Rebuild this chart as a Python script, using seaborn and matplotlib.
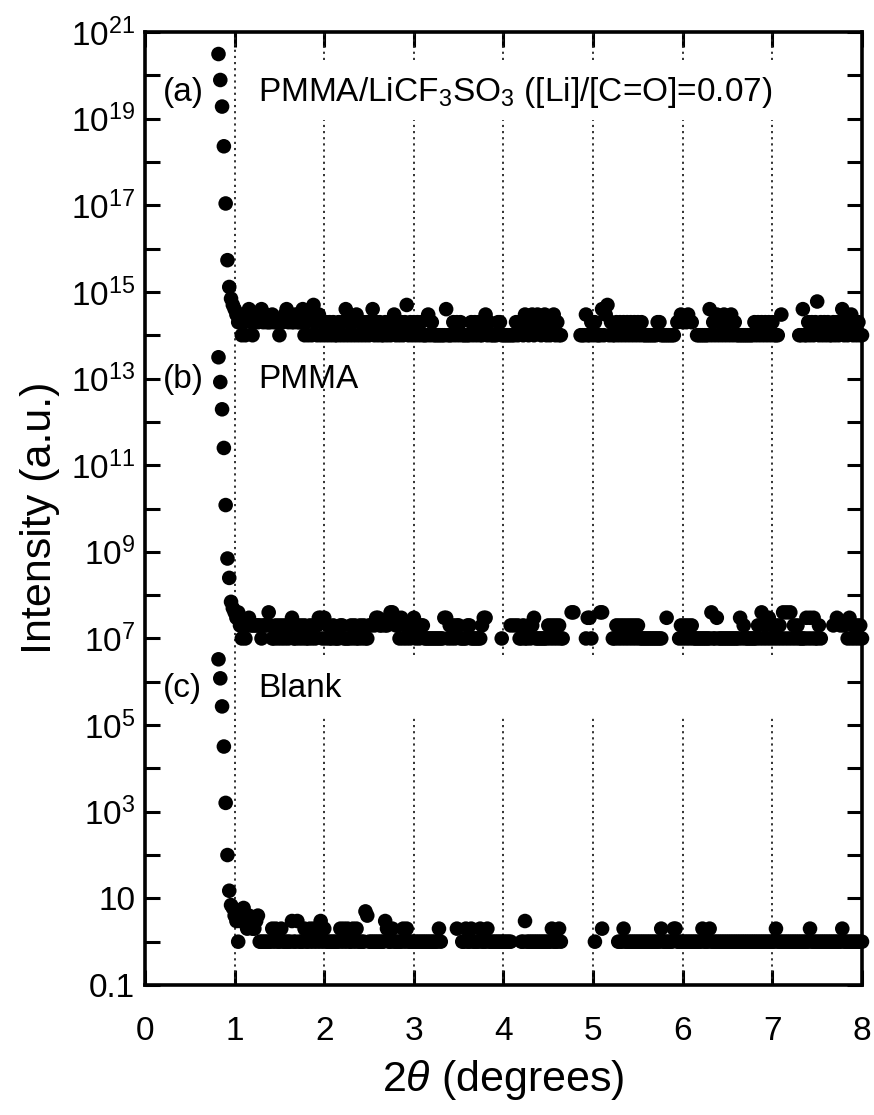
import numpy as np
import pandas as pd
import matplotlib
matplotlib.use("Agg")
import matplotlib.pyplot as plt
import seaborn as sns

# ---------------- data ----------------
X_START = 0.82          # first 2theta of the scan (deg)
STEP = 0.02             # scan step (deg)

OFFSET_A = 1e14
OFFSET_B = 1e7
OFFSET_C = 1.0

PEAK_A = [3.1e6, 7.8e5, 1.9e5, 2.3e4, 1.1e3, 54, 13, 7, 5]
PEAK_B = [3.1e6, 8.3e5, 1.95e5, 2.5e4, 1.2e3, 70, 25, 7, 5]
PEAK_C = [3.3e6, 1.2e6, 2.7e5, 3.2e4, 1.6e3, 100, 15, 7, 6]

# counts from 1.00 to 8.00 deg (one line = 0.5 deg); 0 = no count (not shown on log axis)
FLAT_A = [
    4, 3, 2, 3, 1, 2, 1, 3, 4, 2, 1, 2, 3, 2, 3, 4, 2, 3, 2, 2, 2, 3, 2, 2, 2,
    1, 2, 2, 3, 4, 2, 3, 2, 2, 3, 2, 2, 2, 4, 1, 2, 1, 3, 1, 5, 2, 1, 3, 1, 2,
    1, 2, 1, 2, 1, 2, 1, 1, 2, 1, 2, 1, 4, 1, 2, 1, 2, 1, 3, 1, 2, 1, 2, 1, 2,
    1, 2, 4, 1, 2, 1, 2, 1, 1, 2, 1, 2, 1, 2, 3, 1, 2, 1, 2, 1, 2, 5, 1, 2, 1,
    2, 1, 2, 1, 2, 1, 1, 1, 3, 1, 2, 1, 1, 1, 1, 1, 1, 1, 4, 1, 1, 1, 2, 1, 2,
    1, 2, 1, 1, 1, 1, 1, 2, 1, 2, 1, 2, 1, 1, 2, 3, 1, 2, 1, 1, 1, 1, 2, 2, 1,
    1, 1, 1, 1, 1, 1, 1, 2, 1, 2, 2, 1, 3, 2, 1, 2, 3, 1, 2, 3, 2, 1, 2, 3, 1,
    2, 1, 2, 3, 1, 2, 1, 1, 0, 0, 0, 0, 0, 0, 0, 0, 0, 0, 1, 1, 1, 3, 1, 1, 2,
    1, 2, 1, 1, 1, 4, 1, 3, 5, 1, 2, 1, 1, 2, 1, 2, 1, 2, 1, 2, 1, 2, 1, 2, 1,
    2, 1, 2, 1, 1, 1, 1, 1, 1, 1, 1, 2, 2, 1, 1, 1, 1, 1, 1, 1, 1, 0, 2, 0, 3,
    2, 0, 2, 3, 0, 2, 0, 0, 1, 1, 1, 1, 1, 1, 1, 4, 1, 2, 1, 3, 1, 2, 1, 3, 1,
    2, 1, 3, 1, 2, 1, 1, 1, 1, 1, 1, 1, 1, 1, 1, 2, 1, 2, 1, 2, 1, 2, 1, 2, 1,
    2, 1, 1, 1, 0, 3, 0, 0, 0, 0, 0, 0, 0, 0, 0, 1, 1, 4, 1, 1, 2, 1, 2, 1, 2,
    6, 1, 2, 1, 2, 1, 2, 1, 1, 2, 1, 2, 1, 2, 4, 1, 2, 1, 2, 3, 1, 2, 1, 2, 1,
    1,
]
FLAT_B = [
    4, 3, 4, 2, 1, 2, 1, 2, 3, 2, 2, 2, 2, 2, 2, 1, 2, 2, 2, 4, 2, 1, 1, 2, 1,
    2, 1, 2, 1, 2, 1, 2, 3, 1, 1, 2, 1, 2, 1, 2, 1, 1, 2, 1, 2, 1, 2, 3, 3, 1,
    3, 1, 2, 1, 1, 2, 1, 1, 1, 2, 2, 1, 1, 1, 1, 2, 1, 2, 1, 1, 2, 1, 2, 1, 1,
    2, 2, 0, 2, 3, 3, 2, 2, 0, 2, 2, 3, 4, 4, 3, 2, 2, 1, 3, 1, 2, 1, 2, 1, 2,
    3, 1, 2, 1, 2, 2, 1, 1, 1, 1, 1, 1, 1, 1, 1, 1, 1, 3, 3, 1, 2, 1, 2, 1, 2,
    2, 1, 1, 1, 1, 2, 2, 1, 1, 1, 1, 1, 1, 2, 3, 3, 0, 0, 0, 0, 0, 0, 0, 0, 1,
    0, 0, 0, 0, 2, 0, 2, 0, 2, 1, 1, 2, 1, 1, 2, 1, 2, 3, 1, 1, 1, 1, 1, 1, 1,
    2, 1, 2, 1, 2, 1, 2, 1, 1, 0, 0, 0, 0, 4, 4, 0, 0, 0, 0, 0, 0, 1, 3, 3, 1,
    0, 0, 0, 0, 4, 4, 0, 0, 0, 0, 0, 1, 1, 2, 1, 2, 1, 2, 1, 2, 1, 2, 1, 2, 1,
    2, 1, 1, 1, 1, 1, 1, 1, 1, 1, 1, 1, 1, 1, 0, 0, 3, 0, 0, 0, 0, 0, 0, 1, 2,
    1, 2, 1, 2, 1, 2, 1, 1, 1, 1, 1, 1, 1, 1, 1, 1, 4, 1, 1, 3, 1, 1, 1, 1, 1,
    1, 1, 1, 1, 1, 1, 1, 3, 1, 2, 1, 1, 1, 1, 1, 1, 1, 2, 1, 4, 1, 2, 1, 3, 1,
    2, 1, 2, 1, 2, 1, 4, 1, 4, 1, 4, 1, 2, 1, 2, 1, 1, 1, 1, 3, 1, 3, 1, 3, 1,
    1, 2, 1, 0, 0, 0, 0, 0, 0, 2, 0, 3, 0, 2, 0, 2, 0, 1, 3, 1, 2, 1, 2, 1, 2,
    1,
]
FLAT_C = [
    4, 3, 1, 3, 5, 6, 3, 2, 4, 3, 2, 2, 3, 4, 1, 1, 1, 1, 1, 1, 1, 2, 1, 2, 1,
    1, 2, 1, 1, 1, 1, 1, 3, 1, 1, 3, 1, 1, 1, 2, 1, 1, 2, 1, 2, 1, 2, 1, 3, 1,
    2, 1, 1, 1, 1, 1, 1, 1, 1, 2, 1, 2, 1, 2, 1, 1, 2, 1, 2, 1, 1, 1, 1, 5, 4,
    1, 1, 1, 1, 1, 1, 1, 1, 1, 3, 2, 1, 1, 2, 1, 1, 1, 1, 1, 2, 1, 2, 1, 1, 1,
    1, 1, 1, 1, 1, 1, 1, 1, 1, 1, 1, 1, 1, 1, 2, 1, 0, 0, 0, 0, 0, 0, 0, 0, 2,
    0, 0, 1, 1, 2, 1, 1, 2, 1, 1, 1, 1, 2, 1, 1, 1, 2, 1, 1, 1, 1, 1, 1, 1, 1,
    1, 1, 1, 1, 1, 0, 0, 0, 0, 0, 1, 1, 3, 1, 1, 1, 1, 1, 1, 1, 1, 1, 1, 1, 1,
    1, 1, 2, 1, 1, 1, 2, 1, 0, 0, 0, 0, 0, 0, 0, 0, 0, 0, 0, 0, 0, 0, 0, 0, 0,
    0, 1, 0, 0, 0, 2, 0, 0, 0, 0, 0, 0, 0, 0, 1, 1, 1, 2, 1, 1, 1, 1, 1, 1, 1,
    1, 1, 1, 1, 1, 1, 1, 1, 1, 1, 1, 1, 1, 2, 1, 1, 1, 1, 1, 1, 2, 2, 1, 1, 1,
    1, 1, 1, 1, 1, 1, 1, 1, 1, 1, 1, 2, 1, 1, 1, 2, 1, 1, 1, 1, 1, 1, 1, 1, 1,
    1, 1, 1, 1, 1, 1, 1, 1, 1, 1, 1, 1, 1, 1, 1, 1, 1, 1, 1, 1, 1, 1, 1, 1, 1,
    1, 1, 2, 1, 1, 1, 1, 1, 1, 1, 1, 1, 1, 1, 1, 1, 1, 1, 1, 1, 1, 2, 1, 1, 1,
    1, 1, 1, 1, 1, 1, 1, 1, 1, 1, 1, 1, 1, 1, 2, 1, 1, 1, 1, 1, 1, 1, 1, 1, 1,
    1,
]

SAMPLES = ["a", "b", "c"]
PANEL_TAGS = ["(a)", "(b)", "(c)"]
PANEL_NAMES = ["PMMA/LiCF$_3$SO$_3$ ([Li]/[C=O]=0.07)", "PMMA", "Blank"]

X_TICKS = [0, 1, 2, 3, 4, 5, 6, 7, 8]
Y_TICK_EXPONENTS = list(range(-1, 22))
Y_LABELS = {-1: "0.1", 1: "10", 3: "10$^{3}$", 5: "10$^{5}$", 7: "10$^{7}$",
            9: "10$^{9}$", 11: "10$^{11}$", 13: "10$^{13}$", 15: "10$^{15}$",
            17: "10$^{17}$", 19: "10$^{19}$", 21: "10$^{21}$"}
GRID_X = [1, 2, 3, 4, 5, 6, 7]
GRID_GAPS_LOG = [(18.97, 20.35), (5.19, 6.62)]   # blank bands behind the (a) and (c) captions

# ---------------- build table ----------------
frames = []
for name, peak, flat, off in [("a", PEAK_A, FLAT_A, OFFSET_A),
                              ("b", PEAK_B, FLAT_B, OFFSET_B),
                              ("c", PEAK_C, FLAT_C, OFFSET_C)]:
    counts = np.array(peak + flat, dtype=float)
    tt = np.round(X_START + STEP * np.arange(len(counts)), 2)
    keep = counts > 0
    frames.append(pd.DataFrame({"two_theta": tt[keep],
                                "intensity": counts[keep] * off,
                                "sample": name}))
df = pd.concat(frames, ignore_index=True)

# ---------------- style ----------------
sns.set_theme(style="ticks")
plt.rcParams["font.family"] = ["Liberation Sans", "DejaVu Sans"]
plt.rcParams["mathtext.fontset"] = "custom"
plt.rcParams["mathtext.rm"] = "Liberation Sans"
plt.rcParams["mathtext.it"] = "Liberation Sans:italic"
plt.rcParams["mathtext.bf"] = "Liberation Sans:bold"

fig = plt.figure(figsize=(8.74, 11.15), dpi=100)
ax = fig.add_axes([145 / 874, 1 - 985 / 1115, (862 - 145) / 874, (985 - 32) / 1115])

ax.set_yscale("log")
ax.set_xlim(0, 8)
ax.set_ylim(1e-1, 1e21)

# dotted vertical grid
grid_kw = dict(colors="#222222", linewidth=1.3, linestyles=(0, (1.2, 2.2)), zorder=1)
ymin, ymax = ax.get_ylim()
for gx in GRID_X:
    if gx == 1:
        ax.vlines(gx, ymin, ymax, **grid_kw)
    else:
        edges = [np.log10(ymin)]
        for lo, hi in sorted(GRID_GAPS_LOG):
            edges += [lo, hi]
        edges.append(np.log10(ymax))
        for k in range(0, len(edges), 2):
            ax.vlines(gx, 10 ** edges[k], 10 ** edges[k + 1], **grid_kw)

sns.scatterplot(data=df, x="two_theta", y="intensity", hue="sample",
                palette={"a": "black", "b": "black", "c": "black"},
                s=110, edgecolor="none", linewidth=0, legend=False,
                ax=ax, zorder=3, clip_on=False)

ax.set_yscale("log")
ax.set_xlim(0, 8)
ax.set_ylim(1e-1, 1e21)

ax.set_xticks(X_TICKS)
ax.set_xticklabels([str(t) for t in X_TICKS])
ax.set_yticks([10.0 ** e for e in Y_TICK_EXPONENTS])
ax.set_yticklabels([Y_LABELS.get(e, "") for e in Y_TICK_EXPONENTS])
ax.yaxis.set_minor_locator(matplotlib.ticker.NullLocator())
ax.xaxis.set_minor_locator(matplotlib.ticker.NullLocator())

ax.tick_params(axis="both", which="major", direction="in", length=11, width=2.2,
               top=True, right=True, labelsize=24, colors="black")
ax.tick_params(axis="x", pad=22)
ax.tick_params(axis="y", pad=7)
for sp in ax.spines.values():
    sp.set_linewidth(2.6)
    sp.set_color("black")
    sp.set_visible(True)

ax.set_xlabel(r"2$\mathit{\theta}$ (degrees)", fontsize=31, labelpad=8, color="black")
ax.set_ylabel("Intensity (a.u.)", fontsize=31, color="black")
ax.yaxis.set_label_coords(-0.118, 0.49)

# panel captions
cap_y = [0.937, 0.635, 0.3116]
for tag, name, yy in zip(PANEL_TAGS, PANEL_NAMES, cap_y):
    ax.text(0.025, yy, tag, transform=ax.transAxes, fontsize=24, va="center", ha="left", color="black")
    ax.text(0.1576, yy, name, transform=ax.transAxes, fontsize=24, va="center", ha="left", color="black")

fig.savefig("out.png", dpi=100)
